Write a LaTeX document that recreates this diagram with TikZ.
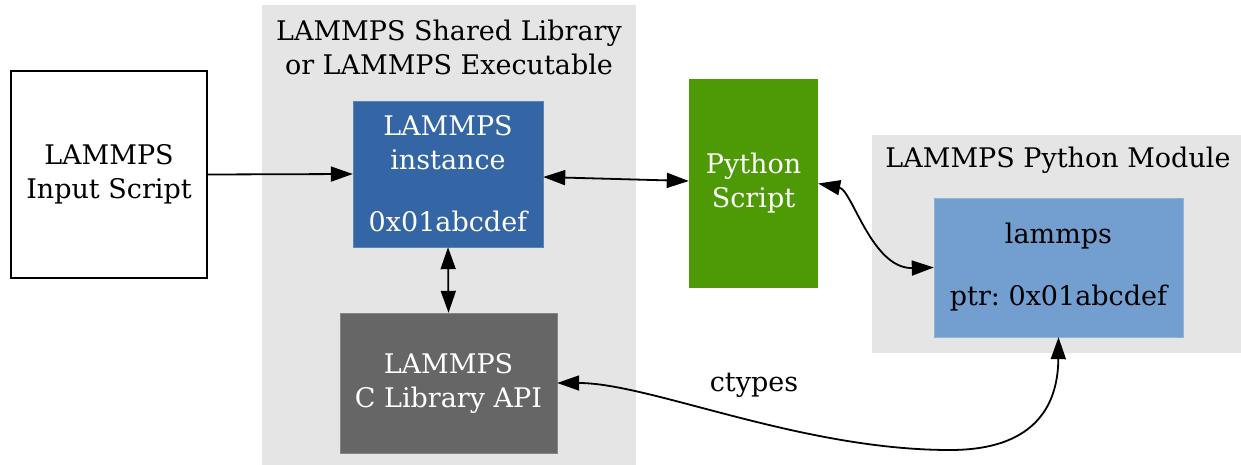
\documentclass[tikz,border=0pt]{standalone}
\usepackage{fontspec}
\setmainfont{DejaVu Serif}
\usetikzlibrary{arrows.meta}
\definecolor{clusterbg}{HTML}{E5E5E5}
\definecolor{instblue}{HTML}{3465A4}
\definecolor{modblue}{HTML}{729FCF}
\definecolor{pygreen}{HTML}{4E9A06}
\definecolor{apigray}{HTML}{666666}
\tikzset{
  box/.style={rectangle, inner sep=0pt, align=center, font=\fontsize{27}{34}\selectfont\frenchspacing},
  cluster/.style={fill=clusterbg, draw=none},
  title/.style={inner sep=0pt, align=center, font=\fontsize{27}{34}\selectfont\frenchspacing},
  conn/.style={line width=1.8pt, -{Triangle[length=22pt,width=15pt]}},
  bconn/.style={line width=1.8pt, {Triangle[length=22pt,width=15pt]}-{Triangle[length=22pt,width=15pt]}},
}
\begin{document}
\begin{tikzpicture}[x=1pt,y=-1pt]
\useasboundingbox (0,0) rectangle (1241,465);
% clusters
\fill[cluster] (262,5) rectangle (636,465);
\fill[cluster] (872,135) rectangle (1241,353);
\node[title] (t1) at (449,47) {LAMMPS Shared Library\\or LAMMPS Executable};
\node[title] (t2) at (1058,160) {LAMMPS Python Module};
% nodes
\node[box, draw=black, line width=1.4pt, minimum width=196pt, minimum height=207pt] (input) at (109,174.5) {LAMMPS\\Input Script};
\node[box, fill=instblue, draw=instblue!80!white, text=white, minimum width=190pt, minimum height=146pt] (inst) at (448,174) {LAMMPS\\instance\\[28pt]0x01abcdef};
\node[box, fill=apigray, draw=apigray!80!white, text=white, minimum width=217pt, minimum height=140pt] (api) at (448.5,383) {LAMMPS\\C Library API};
\node[box, fill=pygreen, text=white, minimum width=129pt, minimum height=209pt] (py) at (753.5,183.5) {Python\\Script};
\node[box, fill=modblue, draw=modblue!80!white, text=black, minimum width=249pt, minimum height=139pt] (mod) at (1058.5,267.5) {lammps\\[28pt]ptr: 0x01abcdef};
% connectors
\draw[conn] (input.east) -- (inst.west);
\draw[bconn] ([yshift=-3pt]inst.east) -- ([yshift=2.5pt]py.west);
\draw[bconn] (inst.south) -- (api.north);
\draw[bconn] (py.east) .. controls (852,190) and (872,269) .. (mod.west);
\draw[bconn] (api.east) .. controls (650,383) and (800,450) .. (950,450) .. controls (1040,450) and (1058,400) .. (mod.south);
\node[title] (ct) at (754,385) {ctypes};
\end{tikzpicture}
\end{document}
